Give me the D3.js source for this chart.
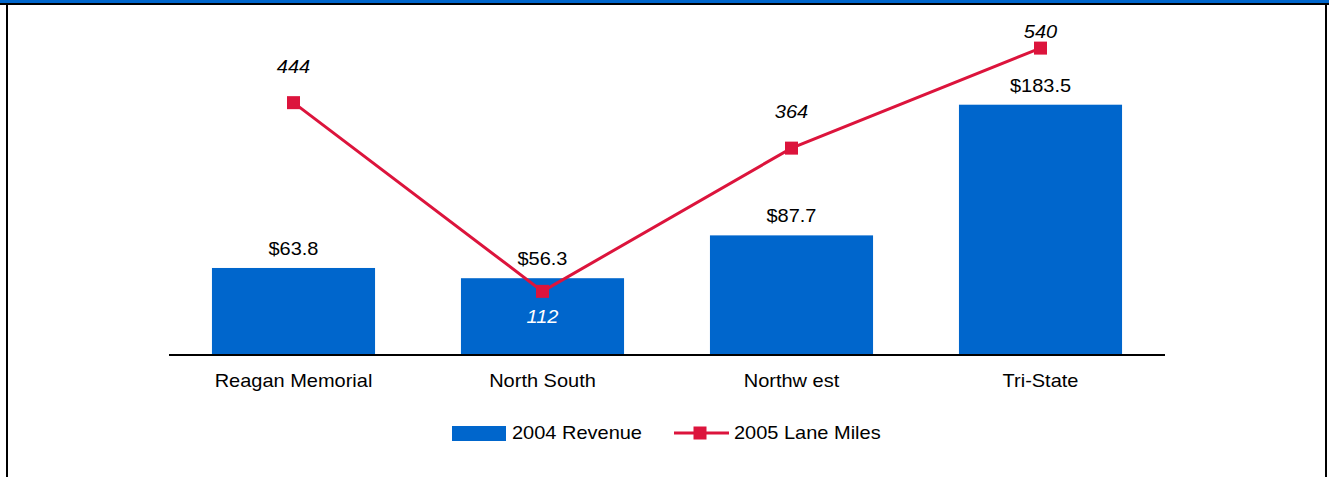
<!DOCTYPE html>
<html>
<head>
<meta charset="utf-8">
<script src="https://cdn.jsdelivr.net/npm/d3@7"></script>
<style>
  html, body { margin: 0; padding: 0; background: #fff; }
  svg { display: block; }
  text { font-family: "Liberation Sans", Arial, sans-serif; }
</style>
</head>
<body>
<svg id="chart" width="1329" height="477"></svg>
<script>
// Toll road revenue and lane miles by road
const categories = ["Reagan Memorial", "North South", "Northw est", "Tri-State"];
const revenue2004 = [63.8, 56.3, 87.7, 183.5];
const laneMiles2005 = [444, 112, 364, 540];
const seriesNames = ["2004 Revenue", "2005 Lane Miles"];

const barColor = "#0066CC";
const lineColor = "#DC143C";
const fontSize = 18.5;
const stretch = 1.08; // text is set slightly wide

const svg = d3.select("#chart");
const W = 1329, H = 477;

// frame: blue band across the top, black rule under it, black sides
svg.append("rect").attr("x", 0).attr("y", 0).attr("width", W).attr("height", 3).attr("fill", barColor);
svg.append("rect").attr("x", 0).attr("y", 3).attr("width", W).attr("height", 2).attr("fill", "#000");
svg.append("rect").attr("x", 6).attr("y", 3).attr("width", 2).attr("height", H).attr("fill", "#000");
svg.append("rect").attr("x", 1325).attr("y", 3).attr("width", 2).attr("height", H).attr("fill", "#000");

const plot = { left: 169, right: 1165, top: 14, bottom: 355 };

const x = d3.scaleBand().domain(categories).range([plot.left, plot.right])
  .paddingInner(0.345).paddingOuter(0.1725);
const yBar = d3.scaleLinear().domain([0, 250]).range([plot.bottom, plot.top]);
const yLine = d3.scaleLinear().domain([0, 600]).range([plot.bottom, plot.top]);

function widen(sel) {
  sel.each(function () {
    const len = this.getComputedTextLength();
    d3.select(this).attr("textLength", len * stretch).attr("lengthAdjust", "spacingAndGlyphs");
  });
}

// bars
svg.append("g").selectAll("rect")
  .data(categories)
  .join("rect")
  .attr("x", d => x(d))
  .attr("y", (d, i) => yBar(revenue2004[i]))
  .attr("width", x.bandwidth())
  .attr("height", (d, i) => yBar(0) - yBar(revenue2004[i]))
  .attr("fill", barColor);

// bar value labels
svg.append("g").selectAll("text")
  .data(categories)
  .join("text")
  .attr("x", d => x(d) + x.bandwidth() / 2)
  .attr("y", (d, i) => yBar(revenue2004[i]) - 13)
  .attr("text-anchor", "middle")
  .attr("font-size", fontSize)
  .attr("fill", "#000")
  .text((d, i) => "$" + d3.format(".1f")(revenue2004[i]))
  .call(widen);

// category axis
const xAxis = svg.append("g")
  .attr("transform", `translate(0,${plot.bottom})`)
  .call(d3.axisBottom(x).tickSize(0).tickPadding(0).tickSizeOuter(0));
xAxis.select(".domain").attr("stroke", "#000").attr("stroke-width", 2)
  .attr("d", `M${plot.left},0H${plot.right}`);
xAxis.selectAll(".tick text")
  .attr("font-family", "Liberation Sans, Arial, sans-serif")
  .attr("font-size", fontSize)
  .attr("fill", "#000")
  .attr("dy", null)
  .attr("y", 32)
  .call(widen);

// lane-miles line
const cx = d => x(d) + x.bandwidth() / 2;
const pts = categories.map((c, i) => [cx(c), yLine(laneMiles2005[i])]);

svg.append("path")
  .datum(pts)
  .attr("d", d3.line())
  .attr("fill", "none")
  .attr("stroke", lineColor)
  .attr("stroke-width", 3);

const mk = 13;
svg.append("g").selectAll("rect")
  .data(pts)
  .join("rect")
  .attr("x", d => d[0] - mk / 2)
  .attr("y", d => d[1] - mk / 2)
  .attr("width", mk)
  .attr("height", mk)
  .attr("fill", lineColor);

// line value labels: above the marker, except where the point dips into its bar
svg.append("g").selectAll("text")
  .data(categories)
  .join("text")
  .each(function (d, i) {
    const py = yLine(laneMiles2005[i]);
    const inside = py > yBar(revenue2004[i]);
    d3.select(this)
      .attr("x", cx(d))
      .attr("y", inside ? py + 32 : Math.max(py - 30, plot.top + 24))
      .attr("fill", inside ? "#fff" : "#000");
  })
  .attr("text-anchor", "middle")
  .attr("font-size", fontSize)
  .attr("font-style", "italic")
  .text((d, i) => laneMiles2005[i])
  .call(widen);

// legend
const lg = svg.append("g");
lg.append("rect").attr("x", 452).attr("y", 426).attr("width", 54).attr("height", 15).attr("fill", barColor);
lg.append("text").attr("x", 512).attr("y", 439).attr("font-size", fontSize).text(seriesNames[0]).call(widen);
lg.append("line").attr("x1", 674).attr("x2", 729).attr("y1", 433).attr("y2", 433)
  .attr("stroke", lineColor).attr("stroke-width", 3);
lg.append("rect").attr("x", 700 - mk / 2).attr("y", 433 - mk / 2).attr("width", mk).attr("height", mk).attr("fill", lineColor);
lg.append("text").attr("x", 734).attr("y", 439).attr("font-size", fontSize).text(seriesNames[1]).call(widen);
</script>
</body>
</html>
